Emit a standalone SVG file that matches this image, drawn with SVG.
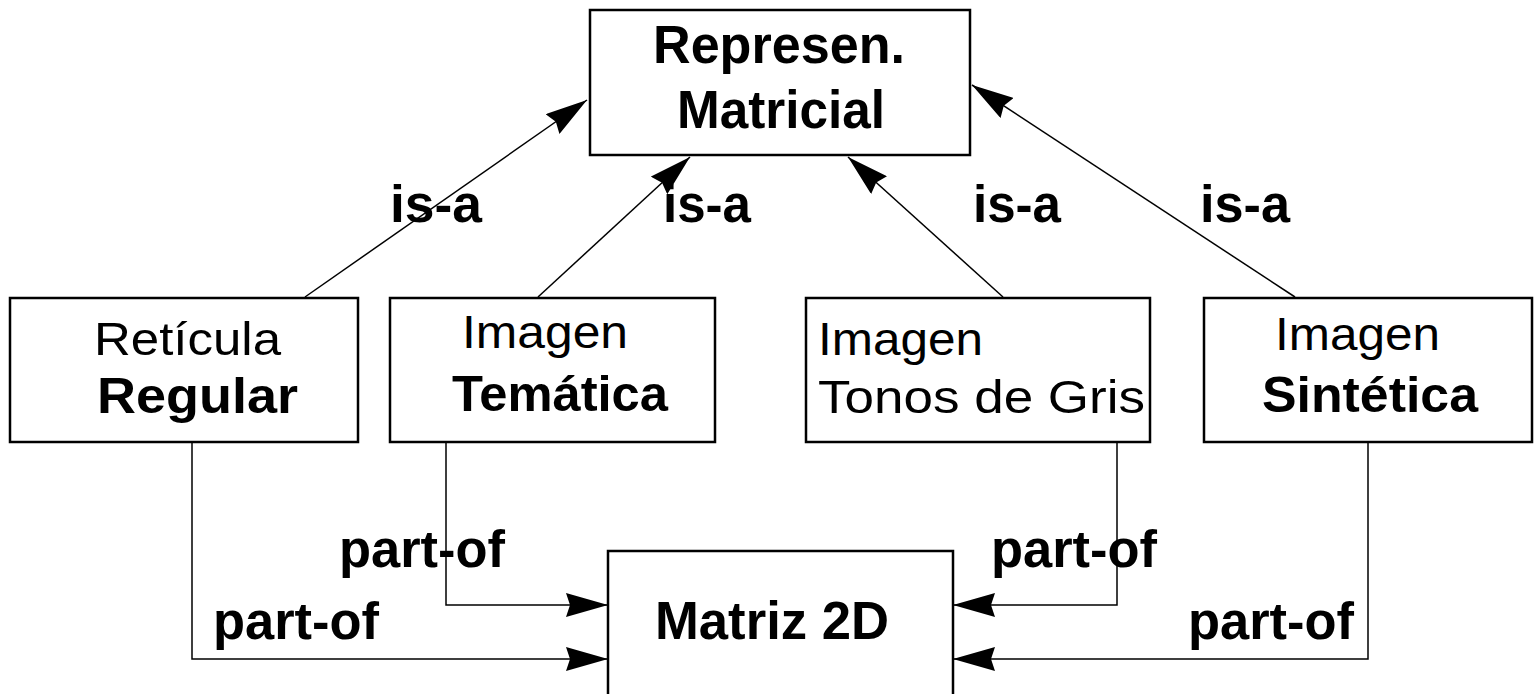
<svg xmlns="http://www.w3.org/2000/svg" width="1534" height="694" viewBox="0 0 1534 694">
<defs>
<marker id="arr" viewBox="0 0 42 24" markerUnits="userSpaceOnUse" markerWidth="42" markerHeight="24" refX="42" refY="12" orient="auto">
<path d="M0,0 L42,12 L0,24 L4,12 z" fill="#000"/>
</marker>
<style>
.box{fill:#fff;stroke:#000;stroke-width:2.5}
.t{font-family:"Liberation Sans",Arial,sans-serif;fill:#000}
.r{font-size:46px;font-weight:normal}
.b{font-size:50px;font-weight:bold}
.bb{font-size:53px;font-weight:bold}
.lbl{font-family:"Liberation Sans",Arial,sans-serif;font-size:51px;font-weight:bold;fill:#000}
.c{fill:none;stroke:#000;stroke-width:1.5}
</style>
</defs>
<rect width="1534" height="694" fill="#fff"/>
<g id="connectors">
<path class="c" d="M305,297 L587,100" marker-end="url(#arr)"/>
<path class="c" d="M538,297 L690,157" marker-end="url(#arr)"/>
<path class="c" d="M1003,297 L848,157" marker-end="url(#arr)"/>
<path class="c" d="M1295,297 L972,85" marker-end="url(#arr)"/>
<path class="c" d="M192,442 V659 H608" marker-end="url(#arr)"/>
<path class="c" d="M446,442 V605 H608" marker-end="url(#arr)"/>
<path class="c" d="M1117,442 V605 H953" marker-end="url(#arr)"/>
<path class="c" d="M1368,442 V659 H953" marker-end="url(#arr)"/>
<text class="lbl" x="390" y="222" textLength="92" lengthAdjust="spacingAndGlyphs">is-a</text>
<text class="lbl" x="663" y="222" textLength="88" lengthAdjust="spacingAndGlyphs">is-a</text>
<text class="lbl" x="973" y="222" textLength="88" lengthAdjust="spacingAndGlyphs">is-a</text>
<text class="lbl" x="1200" y="222" textLength="90" lengthAdjust="spacingAndGlyphs">is-a</text>
<text class="lbl" x="339" y="567" textLength="166" lengthAdjust="spacingAndGlyphs">part-of</text>
<text class="lbl" x="213" y="639" textLength="166" lengthAdjust="spacingAndGlyphs">part-of</text>
<text class="lbl" x="991" y="567" textLength="166" lengthAdjust="spacingAndGlyphs">part-of</text>
<text class="lbl" x="1188" y="639" textLength="166" lengthAdjust="spacingAndGlyphs">part-of</text>
</g>
<g id="represen-matricial">
<rect class="box" x="590" y="10" width="380" height="145"/>
<text class="t bb" x="653" y="63" textLength="252" lengthAdjust="spacingAndGlyphs">Represen.</text>
<text class="t bb" x="677" y="128" textLength="208" lengthAdjust="spacingAndGlyphs">Matricial</text>
</g>
<g id="reticula-regular">
<rect class="box" x="10" y="298" width="348" height="144"/>
<text class="t r" x="94" y="355" textLength="187" lengthAdjust="spacingAndGlyphs">Retícula</text>
<text class="t b" x="97" y="413" textLength="201" lengthAdjust="spacingAndGlyphs">Regular</text>
</g>
<g id="imagen-tematica">
<rect class="box" x="390" y="298" width="325" height="144"/>
<text class="t r" x="462" y="348" textLength="166" lengthAdjust="spacingAndGlyphs">Imagen</text>
<text class="t b" x="452" y="411" textLength="216" lengthAdjust="spacingAndGlyphs">Temática</text>
</g>
<g id="imagen-tonos">
<rect class="box" x="806" y="298" width="344" height="144"/>
<text class="t r" x="818" y="355" textLength="165" lengthAdjust="spacingAndGlyphs">Imagen</text>
<text class="t r" x="818" y="413" textLength="327" lengthAdjust="spacingAndGlyphs">Tonos de Gris</text>
</g>
<g id="imagen-sintetica">
<rect class="box" x="1204" y="298" width="328" height="144"/>
<text class="t r" x="1275" y="350" textLength="165" lengthAdjust="spacingAndGlyphs">Imagen</text>
<text class="t b" x="1262" y="412" textLength="216" lengthAdjust="spacingAndGlyphs">Sintética</text>
</g>
<g id="matriz-2d">
<rect class="box" x="608" y="551" width="345" height="160"/>
<text class="t bb" x="655" y="639" textLength="234" lengthAdjust="spacingAndGlyphs">Matriz 2D</text>
</g>
</svg>
